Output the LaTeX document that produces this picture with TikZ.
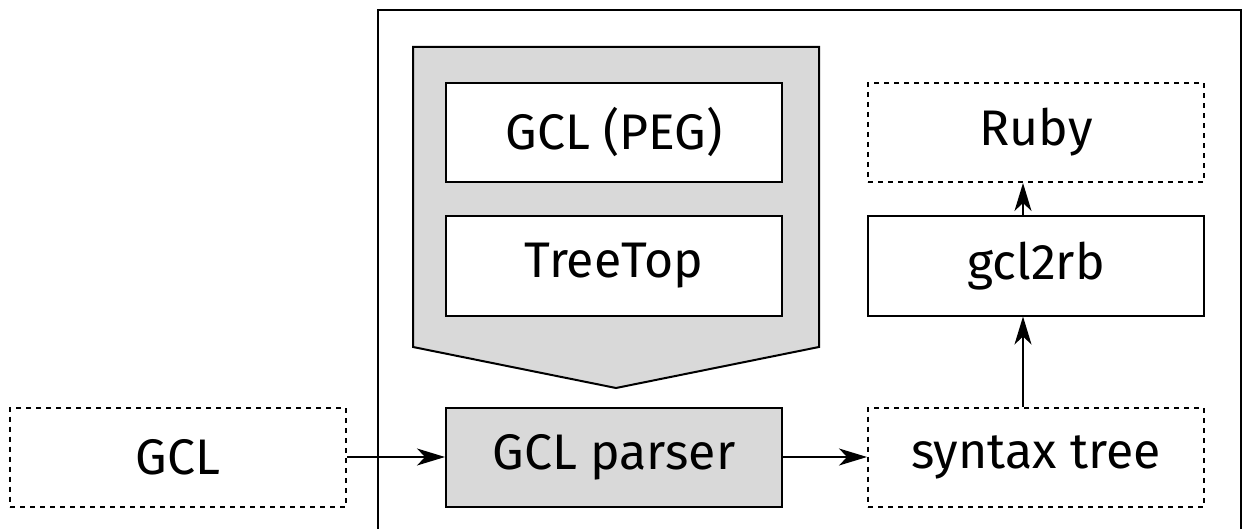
\documentclass[tikz,border=0pt]{standalone}
\usepackage{fontspec}
\setmainfont{Fira Sans}
\usetikzlibrary{arrows.meta}
\definecolor{boxgray}{RGB}{217,217,217}
\tikzset{
  x=1pt, y=-1pt,
  every node/.style={font=\fontsize{50}{60}\selectfont, inner sep=0pt},
  solidbox/.style={draw=black, line width=2pt, fill=white, minimum width=336pt, minimum height=99pt},
  dashbox/.style={draw=black, line width=2pt, dash pattern=on 5pt off 5pt, fill=white, minimum width=336pt, minimum height=99pt},
  graybox/.style={solidbox, fill=boxgray},
  flow/.style={line width=1.5pt, -{Stealth[length=28pt, width=17pt, inset=8pt]}},
}
\begin{document}
\begin{tikzpicture}
\useasboundingbox (0,0) rectangle (1242,529);
% enclosing frame, open at the bottom
\draw[line width=2pt] (378,540) -- (378,10) -- (1241,10) -- (1241,540);
% grammar block funnelling into the parser
\draw[line width=2pt, fill=boxgray, line join=miter] (413,47) -- (819,47) -- (819,347) -- (616,388) -- (413,347) -- cycle;
\node[solidbox] (peg) at (614,132.5) {GCL (PEG)};
\node[solidbox] (tt) at (614,266) {TreeTop};
\node[graybox] (parser) at (614,457) {GCL parser};
\node[dashbox] (gcl) at (178,457) {GCL};
\node[dashbox] (tree) at (1036,457) {syntax tree};
\node[solidbox] (g2r) at (1036,266) {gcl2rb};
\node[dashbox] (ruby) at (1036,132.5) {Ruby};
% data flow
\draw[flow] (gcl.east) -- (parser.west);
\draw[flow] (parser.east) -- (tree.west);
\draw[flow] ([xshift=-13pt]tree.north) -- ([xshift=-13pt]g2r.south);
\draw[flow] ([xshift=-13pt]g2r.north) -- ([xshift=-13pt]ruby.south);
\end{tikzpicture}
\end{document}
